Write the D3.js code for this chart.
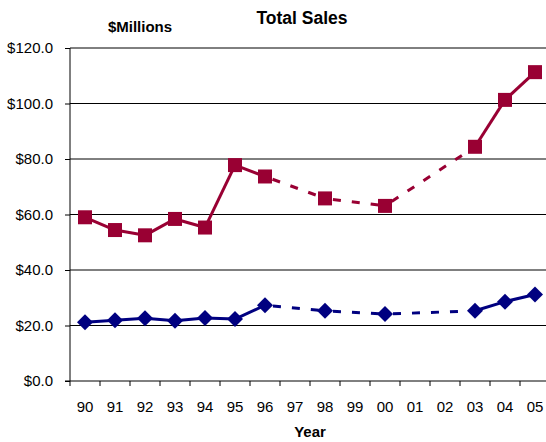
<!DOCTYPE html>
<html><head><meta charset="utf-8">
<script src="https://cdn.jsdelivr.net/npm/d3@7"></script>
<style>body{margin:0;background:#fff}svg{display:block}</style>
</head><body>
<svg id="c" width="546" height="442"></svg>
<script>
const years = ["90","91","92","93","94","95","96","97","98","99","00","01","02","03","04","05"];
const seriesRed  = [59.0, 54.4, 52.5, 58.4, 55.3, 77.8, 73.7, null, 65.8, null, 63.1, null, null, 84.4, 101.3, 111.3];
const seriesBlue = [21.2, 21.9, 22.6, 21.7, 22.7, 22.3, 27.3, null, 25.3, null, 24.1, null, null, 25.3, 28.6, 31.2];
const yTicks = [0, 20, 40, 60, 80, 100, 120];

(function () {
const svg = d3.select("#c");
const font = "Liberation Sans, Arial, sans-serif";
const pL = 70, pR = 550, pT = 48, pB = 381;
const x = d3.scaleBand().domain(years).range([pL, pR]);
const y = d3.scaleLinear().domain([0, 120]).range([pB, pT]);

// gridlines
svg.append("g").selectAll("line").data(yTicks.filter(d => d > 0)).join("line")
  .attr("x1", pL).attr("x2", 546).attr("y1", d => y(d)).attr("y2", d => y(d))
  .attr("stroke", "#000").attr("stroke-width", 1);

// y axis
const yAxis = svg.append("g").attr("transform", `translate(${pL},0)`)
  .call(d3.axisLeft(y).tickValues(yTicks).tickSize(5).tickPadding(12).tickFormat(d => "$" + d3.format(".1f")(d)));
yAxis.select(".domain").attr("d", `M0,${pT}V${pB}`).attr("stroke", "#000");
yAxis.selectAll("text").attr("font-family", font).attr("font-size", 15).attr("fill", "#000");
yAxis.selectAll("line").attr("stroke", "#000");

// x axis
const xAxis = svg.append("g").attr("transform", `translate(0,${pB})`)
  .call(d3.axisBottom(x).tickSize(0).tickPadding(20));
xAxis.select(".domain").attr("d", `M${pL-5},0H546`).attr("stroke", "#000");
xAxis.selectAll("text").attr("font-family", font).attr("font-size", 15).attr("fill", "#000");
xAxis.selectAll(".bt").data(years).join("line").attr("class", "bt")
  .attr("x1", d => x(d)).attr("x2", d => x(d)).attr("y1", 0).attr("y2", 5).attr("stroke", "#000");

function drawSeries(vals, color, marker) {
  const pts = years.map((yr, i) => ({i, yr, v: vals[i]})).filter(p => p.v != null);
  const g = svg.append("g");
  for (let k = 1; k < pts.length; k++) {
    const a = pts[k-1], b = pts[k];
    const dashed = b.i - a.i > 1;
    g.append("line")
      .attr("x1", x(a.yr) + x.bandwidth()/2).attr("y1", y(a.v))
      .attr("x2", x(b.yr) + x.bandwidth()/2).attr("y2", y(b.v))
      .attr("stroke", color).attr("stroke-width", 3)
      .attr("stroke-dasharray", dashed ? "8,11" : null)
      .attr("stroke-dashoffset", dashed ? -8 : null);
  }
  const m = g.selectAll("path.m").data(pts).join("path").attr("class", "m")
    .attr("transform", p => `translate(${x(p.yr) + x.bandwidth()/2},${y(p.v)})`)
    .attr("fill", color);
  if (marker === "square") m.attr("d", "M-7,-7H7V7H-7Z");
  else m.attr("d", "M0,-8L8,0L0,8L-8,0Z");
}
drawSeries(seriesRed, "#990033", "square");
drawSeries(seriesBlue, "#000080", "diamond");

// titles
svg.append("text").attr("x", 302).attr("y", 24).attr("text-anchor", "middle")
  .attr("font-family", font).attr("font-size", 17.5).attr("font-weight", "bold").text("Total Sales");
svg.append("text").attr("x", 140).attr("y", 32).attr("text-anchor", "middle")
  .attr("font-family", font).attr("font-size", 15).attr("font-weight", "bold").text("$Millions");
svg.append("text").attr("x", 310).attr("y", 437).attr("text-anchor", "middle")
  .attr("font-family", font).attr("font-size", 15).attr("font-weight", "bold").text("Year");
})();
</script>
</body></html>
